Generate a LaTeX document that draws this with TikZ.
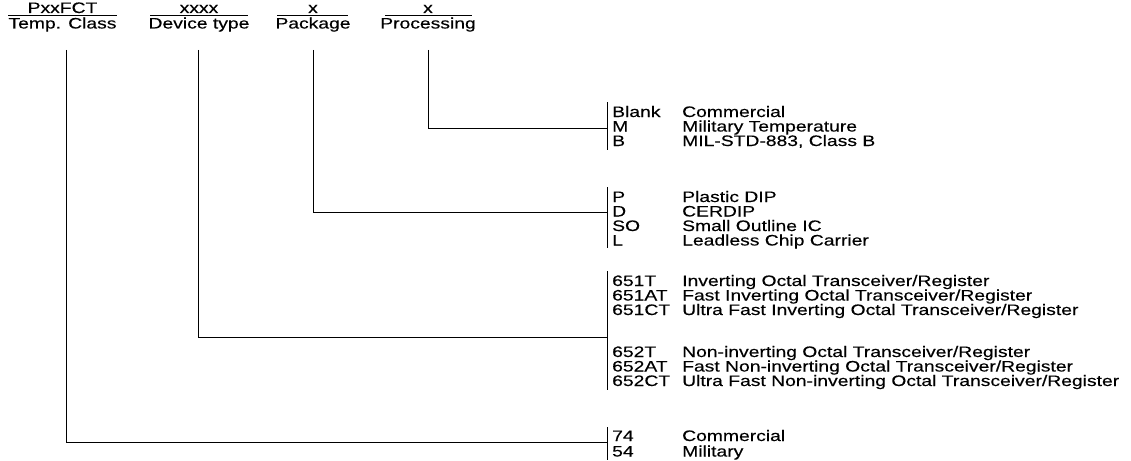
\documentclass[tikz,border=0pt]{standalone}
\usepackage{fontspec}
\setmainfont{Liberation Sans}[FakeStretch=1.27,FakeBold=0.3]
\begin{document}
\begin{tikzpicture}[x=1pt,y=-1pt,
  txt/.style={anchor=base west,inner sep=0pt,font=\fontsize{15.2}{15.2}\selectfont},
  hdr/.style={anchor=base,inner sep=0pt,font=\fontsize{15.2}{15.2}\selectfont},
  ln/.style={line width=1pt,black}]
\useasboundingbox (0,0) rectangle (1131,460);
% headers
\node[hdr] (h1) at (62.5,13) {PxxFCT};
\node[hdr] (s1) at (62.5,28.5) {Temp. Class};
\node[hdr] (h2) at (199,13) {xxxx};
\node[hdr] (s2) at (199,28.5) {Device type};
\node[hdr] (h3) at (313,13) {x};
\node[hdr] (s3) at (313,28.5) {Package};
\node[hdr] (h4) at (428,13) {x};
\node[hdr] (s4) at (428,28.5) {Processing};
\draw[ln] (8,15.5) -- (117,15.5);
\draw[ln] (150,15.5) -- (248,15.5);
\draw[ln] (277,15.5) -- (348,15.5);
\draw[ln] (385,15.5) -- (472,15.5);
% processing group
\node[txt] (pc1) at (612,117) {Blank};
\node[txt] (pd1) at (682,117) {Commercial};
\node[txt] (pc2) at (612,131.5) {M};
\node[txt] (pd2) at (682,131.5) {Military Temperature};
\node[txt] (pc3) at (612,146) {B};
\node[txt] (pd3) at (682,146) {MIL-STD-883, Class B};
% package group
\node[txt] (kc1) at (612,202) {P};
\node[txt] (kd1) at (682,202) {Plastic DIP};
\node[txt] (kc2) at (612,216.5) {D};
\node[txt] (kd2) at (682,216.5) {CERDIP};
\node[txt] (kc3) at (612,231) {SO};
\node[txt] (kd3) at (682,231) {Small Outline IC};
\node[txt] (kc4) at (612,245.5) {L};
\node[txt] (kd4) at (682,245.5) {Leadless Chip Carrier};
% device group
\node[txt] (dc1) at (612,286) {651T};
\node[txt] (dd1) at (682,286) {Inverting Octal Transceiver/Register};
\node[txt] (dc2) at (612,300.5) {651AT};
\node[txt] (dd2) at (682,300.5) {Fast Inverting Octal Transceiver/Register};
\node[txt] (dc3) at (612,315) {651CT};
\node[txt] (dd3) at (682,315) {Ultra Fast Inverting Octal Transceiver/Register};
\node[txt] (dc4) at (612,357) {652T};
\node[txt] (dd4) at (682,357) {Non-inverting Octal Transceiver/Register};
\node[txt] (dc5) at (612,371.5) {652AT};
\node[txt] (dd5) at (682,371.5) {Fast Non-inverting Octal Transceiver/Register};
\node[txt] (dc6) at (612,386) {652CT};
\node[txt] (dd6) at (682,386) {Ultra Fast Non-inverting Octal Transceiver/Register};
% temp group
\node[txt] (tc1) at (612,441) {74};
\node[txt] (td1) at (682,441) {Commercial};
\node[txt] (tc2) at (612,456.5) {54};
\node[txt] (td2) at (682,456.5) {Military};
% brackets
\draw[ln] (607,102) -- (607,150);
\draw[ln] (607,187) -- (607,248);
\draw[ln] (607,271) -- (607,390);
\draw[ln] (607,427) -- (607,460);
% connectors
\coordinate (v4) at (428,50);
\coordinate (v3) at (313,50);
\coordinate (v2) at (198,50);
\coordinate (v1) at (66,50);
\coordinate (b4) at (607,128);
\coordinate (b3) at (607,212);
\coordinate (b2) at (607,337);
\coordinate (b1) at (607,442);
\draw[ln] (v4) |- (b4);
\draw[ln] (v3) |- (b3);
\draw[ln] (v2) |- (b2);
\draw[ln] (v1) |- (b1);
\end{tikzpicture}
\end{document}
